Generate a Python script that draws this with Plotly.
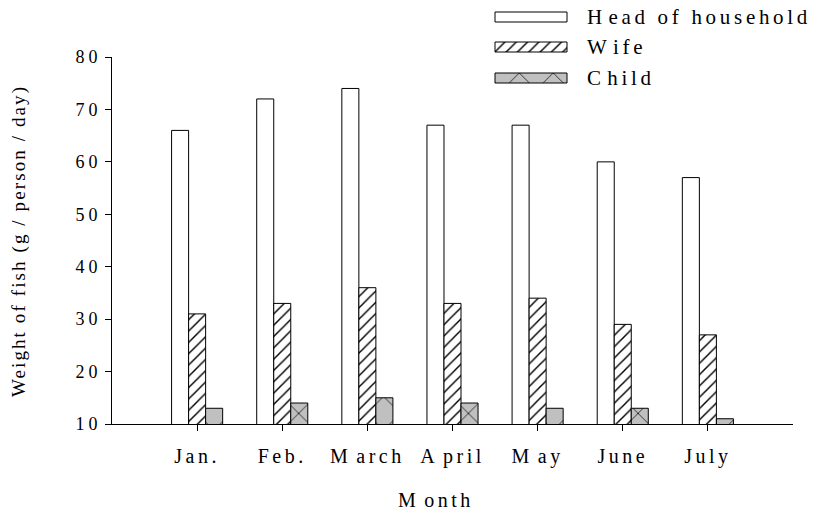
import plotly.graph_objects as go

# ---- data ----
months = ["Jan.", "Feb.", "March", "April", "May", "June", "July"]
head = [66, 72, 74, 67, 67, 60, 57]
wife = [31, 33, 36, 33, 34, 29, 27]
child = [13, 14, 15, 14, 13, 13, 11]
y_ticks = [10, 20, 30, 40, 50, 60, 70, 80]
series_names = ["Head of household", "Wife", "Child"]

# ---- layout geometry (pixels) ----
W, H = 824, 513
L, R, T, B = 112, 31, 5, 89
plot_top = 57
paper_w = W - L - R
paper_h = H - T - B
ydom_top = (H - B - plot_top) / paper_h

FONT = "Liberation Serif, Times New Roman, serif"
GRAY = "#c0c0c0"
WIDE_CAPS = "MAWCH"


def sp(text, px, cap_extra=5):
    """Letter-spaced text; initial wide capitals get a little extra room."""
    if text and text[0] in WIDE_CAPS:
        return (f"<span style='letter-spacing:{px + cap_extra}px'>{text[0]}</span>"
                f"<span style='letter-spacing:{px}px'>{text[1:]}</span>")
    return f"<span style='letter-spacing:{px}px'>{text}</span>"


def px_x(p):
    return (p - L) / paper_w


def px_y(p):
    return (H - B - p) / paper_h


styles = [
    dict(color="white", pattern=dict(shape="")),
    dict(color="white", pattern=dict(shape="/", fgcolor="black", bgcolor="white", size=8, solidity=0.18)),
    dict(color=GRAY, pattern=dict(shape="x", fgcolor="black", bgcolor=GRAY, size=24, solidity=0.06)),
]

fig = go.Figure()
xs = list(range(len(months)))
for name, vals, st in zip(series_names, [head, wife, child], styles):
    fig.add_trace(go.Bar(
        x=xs, y=vals, name=name, showlegend=False,
        marker=dict(color=st["color"], pattern=st["pattern"], line=dict(color="black", width=1)),
    ))

# custom legend swatches on a pixel-coordinate overlay axis
leg_y = [17, 47, 78]
for yy, st in zip(leg_y, styles):
    fig.add_trace(go.Bar(
        x=[72], y=[yy], base=[495], orientation="h", width=[10], offset=-5,
        xaxis="x2", yaxis="y2", showlegend=False, hoverinfo="skip",
        marker=dict(color=st["color"], pattern=st["pattern"], line=dict(color="black", width=1)),
    ))

annotations = []
for name, yy in zip(series_names, leg_y):
    annotations.append(dict(
        x=px_x(585), y=px_y(yy), xref="paper", yref="paper", text=sp(name, 3.7, 2.5), showarrow=False,
        xanchor="left", yanchor="middle", font=dict(family=FONT, size=21, color="black"),
    ))
annotations.append(dict(
    x=px_x(19), y=px_y(241), xref="paper", yref="paper",
    text="<span style='letter-spacing:2.1px'>Weight of fish (g / person / day)</span>", textangle=-90,
    showarrow=False, xanchor="center", yanchor="middle", font=dict(family=FONT, size=19, color="black"),
))
annotations.append(dict(
    x=px_x(436), y=px_y(500), xref="paper", yref="paper", text=sp("Month", 3.5, 5), showarrow=False,
    xanchor="center", yanchor="middle", font=dict(family=FONT, size=20, color="black"),
))

fig.update_layout(
    template="none",
    width=W, height=H, autosize=False,
    margin=dict(l=L, r=R, t=T, b=B, pad=0),
    paper_bgcolor="white", plot_bgcolor="rgba(0,0,0,0)",
    barmode="group", bargap=0.4, bargroupgap=0,
    font=dict(family=FONT, color="black"),
    annotations=annotations,
    xaxis=dict(
        domain=[0, 1], anchor="y", range=[-1, 7], tickmode="array", tickvals=xs,
        ticktext=[sp(m, 3.5, 5) for m in months], ticks="outside", ticklen=6, tickwidth=1,
        tickcolor="black", showline=True, linecolor="black", linewidth=1, showgrid=False,
        zeroline=False, tickfont=dict(family=FONT, size=20, color="black"), ticklabelstandoff=8,
        automargin=False,
    ),
    yaxis=dict(
        domain=[0, ydom_top], anchor="x", range=[10, 80], tickmode="array", tickvals=y_ticks,
        ticktext=[sp(str(v), 4) for v in y_ticks], ticks="outside", ticklen=6, tickwidth=1,
        tickcolor="black", showline=True, linecolor="black", linewidth=1, showgrid=False,
        zeroline=False, tickfont=dict(family=FONT, size=18, color="black"), ticklabelstandoff=0,
        automargin=False,
    ),
    xaxis2=dict(domain=[0, 1], anchor="y2", range=[L, W - R], visible=False, fixedrange=True,
                automargin=False),
    yaxis2=dict(domain=[0, 1], anchor="x2", range=[H - B, T], visible=False, fixedrange=True,
                automargin=False),
)

fig.write_html("out.html", config={"displayModeBar": False},
               post_script="document.body.style.margin='0';")
